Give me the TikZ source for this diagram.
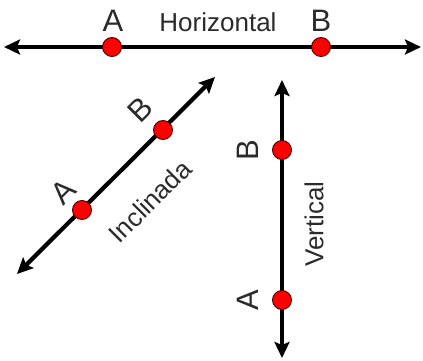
\documentclass[tikz,border=0pt]{standalone}
\usepackage{fontspec}
\setmainfont{Liberation Sans}
\usetikzlibrary{arrows.meta}
\definecolor{txt}{HTML}{2B2B2B}
\definecolor{ptred}{HTML}{FF0000}
\tikzset{
  axisline/.style={line width=4.2pt, draw=black, {Stealth[length=16pt,width=15pt,inset=3pt]}-{Stealth[length=16pt,width=15pt,inset=3pt]}},
  pt/.style={circle, fill=ptred, draw=black!70!red, line width=0.9pt, minimum size=19pt, inner sep=0pt},
  letter/.style={text=txt, font=\fontsize{31}{32}\selectfont, inner sep=0pt},
  word/.style={text=txt, font=\fontsize{26}{27}\selectfont, inner sep=0pt}
}
\begin{document}
\begin{tikzpicture}[x=1pt,y=1pt]
\useasboundingbox (0,0) rectangle (423,360);
% horizontal
\coordinate (hl) at (4,313);
\coordinate (hr) at (421,313);
\draw[axisline] (hl) -- (hr);
\node[pt] (hA) at (112,313) {};
\node[pt] (hB) at (321,313) {};
\node[letter] (hAl) at (113,339) {A};
\node[letter] (hBl) at (321,339) {B};
\node[word] (hw) at (218,338) {Horizontal};
% inclined
\coordinate (il) at (17,86);
\coordinate (ir) at (215,283);
\draw[axisline] (il) -- (ir);
\node[pt] (iA) at (82,150) {};
\node[pt] (iB) at (163,230) {};
\node[letter, rotate=45] (iAl) at (63,168) {A};
\node[letter, rotate=45] (iBl) at (140,250) {B};
\node[word, rotate=45] (iw) at (150,159) {Inclinada};
% vertical
\coordinate (vb) at (282,2);
\coordinate (vt) at (282,280);
\draw[axisline] (vb) -- (vt);
\node[pt] (vA) at (282,60) {};
\node[pt] (vB) at (282,210) {};
\node[letter, rotate=90] (vAl) at (248,60) {A};
\node[letter, rotate=90] (vBl) at (248,210) {B};
\node[word, rotate=90] (vw) at (314,136) {Vertical};
\end{tikzpicture}
\end{document}
